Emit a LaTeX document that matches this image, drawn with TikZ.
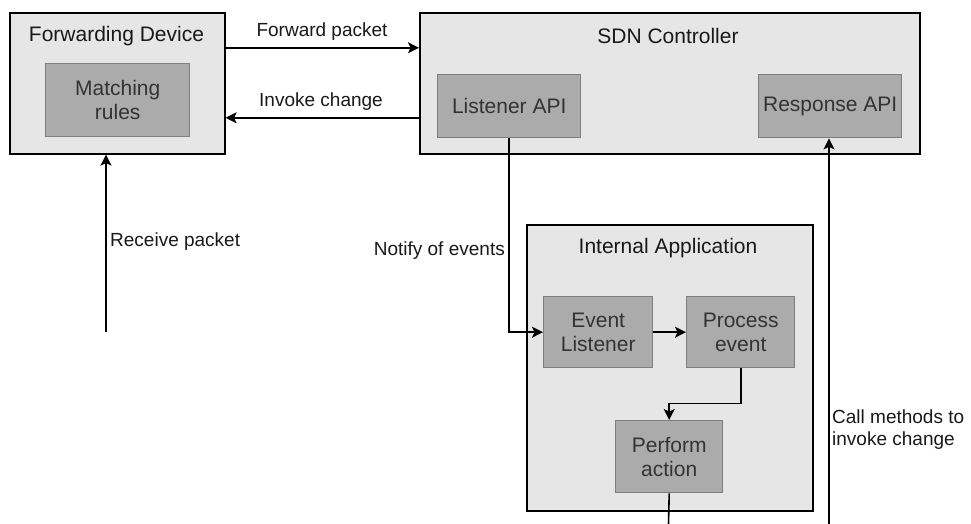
\documentclass[tikz,border=0pt]{standalone}
\usepackage{fontspec}
\setmainfont{Liberation Sans}
\usetikzlibrary{arrows.meta}

\definecolor{outerfill}{HTML}{E6E6E6}
\definecolor{innerfill}{HTML}{ABABAB}
\definecolor{innerline}{HTML}{7F7F7F}
\definecolor{innertext}{HTML}{333333}

\tikzset{
  outerbox/.style={draw=black, fill=outerfill, line width=1.6pt, inner sep=0pt, anchor=north west},
  innerbox/.style={draw=innerline, fill=innerfill, line width=1.4pt, inner sep=0pt, anchor=north west,
                   align=center, text=innertext, font=\fontsize{21}{24}\selectfont},
  title/.style={text=black!90, font=\fontsize{21}{24}\selectfont, inner sep=0pt},
  lbl/.style={text=black!90, font=\fontsize{19}{22}\selectfont, inner sep=0pt},
  conn/.style={line width=1.6pt},
  arr/.style={conn, -{Stealth[length=11pt,width=11pt,inset=2.5pt]}},
}

\begin{document}
\begin{tikzpicture}[x=1pt, y=-1pt]
  \path[fill=white, use as bounding box] (0,0) rectangle (971,524);

  % Forwarding device
  \node[outerbox, minimum width=215pt, minimum height=141pt] (fd) at (9,12) {};
  \node[title] (fdt) at (116.5,36) {Forwarding Device};
  \node[innerbox, minimum width=144pt, minimum height=73pt] (ml) at (45,63) {Matching\\rules};

  % SDN controller
  \node[outerbox, minimum width=500pt, minimum height=141pt] (sdn) at (419,12) {};
  \node[title] (sdnt) at (668,36) {SDN Controller};
  \node[innerbox, minimum width=143pt, minimum height=63pt] (lapi) at (437,74) {Listener API};
  \node[innerbox, minimum width=143pt, minimum height=63pt] (rapi) at (758,74) {Response API};

  % Internal application
  \node[outerbox, minimum width=286pt, minimum height=286pt] (app) at (526,224) {};
  \node[title] (appt) at (668,248) {Internal Application};
  \node[innerbox, minimum width=109pt, minimum height=71pt] (el) at (543,296) {Event\\Listener};
  \node[innerbox, minimum width=108pt, minimum height=71pt] (pe) at (686,296) {Process\\event};
  \node[innerbox, minimum width=107pt, minimum height=72pt] (pa) at (615,420) {Perform\\action};

  % Free ends at the lower edge
  \coordinate (rx) at (106,332);
  \coordinate (pend) at (668.5,524);
  \coordinate (cend) at (829,524);

  % Connectors
  \draw[arr] ([yshift=35.5pt]fd.east) -- ([yshift=35.5pt]fd.east -| sdn.west);
  \draw[arr] ([yshift=-34.5pt]fd.east -| sdn.west) -- ([yshift=-34.5pt]fd.east);
  \draw[arr] (rx) -- (rx |- fd.south);
  \draw[arr] (lapi.south) |- (el.west);
  \draw[arr] (el.east) -- (pe.west);
  \draw[arr] (pe.south) -- ++(0,35) -| (pa.north);
  \draw[conn] (pa.south) -- (pend);
  \draw[arr] (cend) -- (cend |- rapi.south);

  % Labels
  \node[lbl] (lfwd) at (322,32) {Forward packet};
  \node[lbl] (linv) at (321,102) {Invoke change};
  \node[lbl, anchor=west] (lrcv) at (110,242) {Receive packet};
  \node[lbl, anchor=east] (lnot) at (505,251) {Notify of events};
  \node[lbl, anchor=north west, align=left] (lcall) at (832,410) {Call methods to\\invoke change};
\end{tikzpicture}
\end{document}
